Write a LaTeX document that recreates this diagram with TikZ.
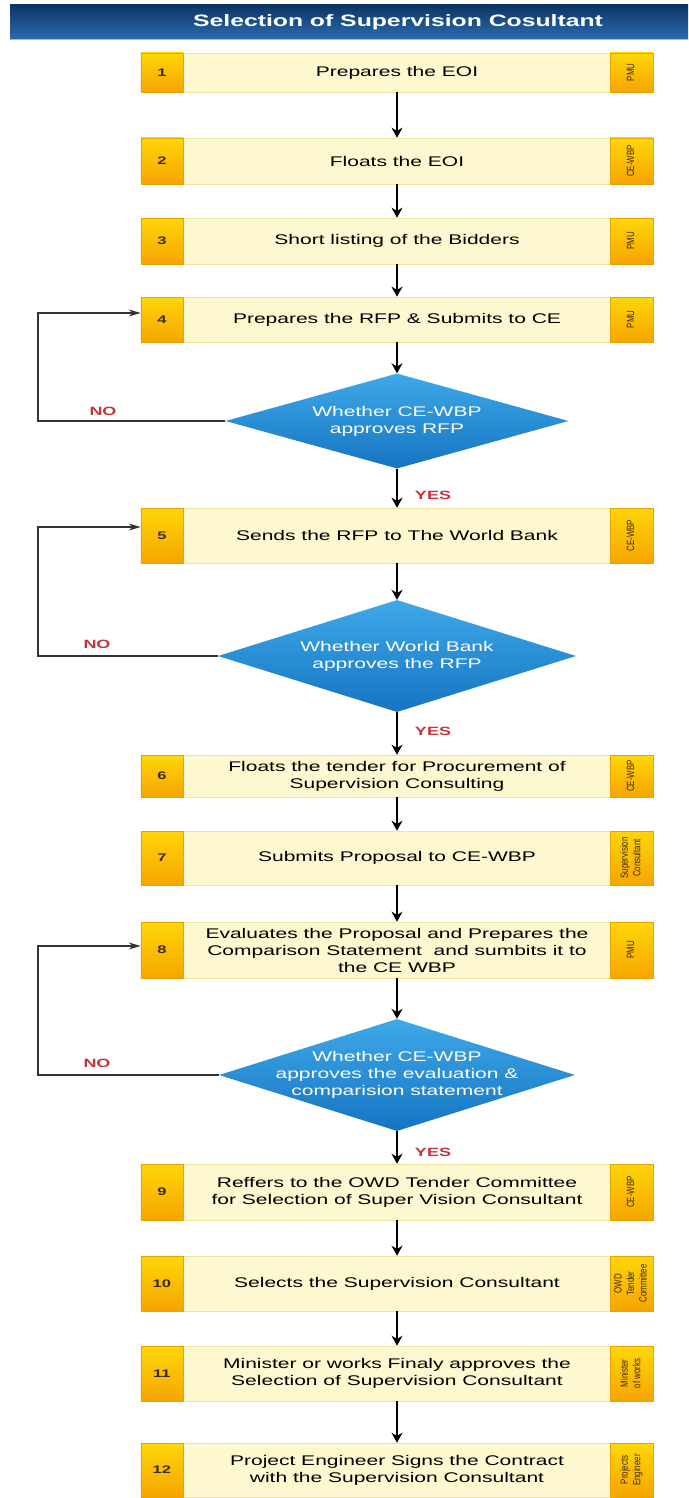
\documentclass[tikz,border=0pt]{standalone}
\usepackage{fontspec}
\setmainfont[FakeStretch=1.5]{Liberation Sans}
\newfontfamily\rolefont[FakeStretch=0.75]{Liberation Sans}
\usetikzlibrary{shapes.geometric,arrows.meta,calc}

\definecolor{boxfill}{HTML}{FEF8D0}
\definecolor{boxline}{HTML}{F2E3A0}
\definecolor{goldtop}{HTML}{FFD60A}
\definecolor{goldbot}{HTML}{F6A500}
\definecolor{goldline}{HTML}{E9A200}
\definecolor{celltext}{HTML}{3B2A05}
\definecolor{dtop}{HTML}{3EA9E8}
\definecolor{dbot}{HTML}{1674C2}
\definecolor{barTop}{HTML}{0B3666}
\definecolor{barBot}{HTML}{2C6CB0}
\definecolor{answercol}{HTML}{C8323C}

% rotated responsibility text in the right-hand cell
\newcommand{\rolelabel}[1]{\rotatebox{90}{\rolefont\fontsize{10.5}{12.5}\selectfont
  \begin{tabular}{@{}c@{}}#1\end{tabular}}}

\begin{document}
\begin{tikzpicture}[x=1pt,y=-1pt,
  stepbox/.style={draw=boxline, line width=0.6pt, fill=boxfill, minimum width=512pt,
    inner sep=1pt, align=center, font=\fontsize{14}{17}\selectfont, text=black},
  numcell/.style={draw=goldline, line width=0.4pt, top color=goldtop, bottom color=goldbot,
    minimum width=42pt, anchor=west, inner sep=0pt,
    font=\bfseries\fontsize{11}{13}\selectfont, text=celltext},
  rolecell/.style={draw=goldline, line width=0.4pt, top color=goldtop, bottom color=goldbot,
    minimum width=43pt, anchor=east, inner sep=0pt, text=celltext},
  decision/.style={diamond, top color=dtop, bottom color=dbot, draw=none, inner sep=0pt},
  dtext/.style={text=white, align=center, font=\fontsize{14}{17}\selectfont},
  flow/.style={line width=2.2pt, -{Stealth[length=10pt,width=11pt]}},
  loopback/.style={draw=black!80, line width=1.6pt, -{Stealth[length=12pt,width=7pt]}},
  answer/.style={text=answercol, font=\bfseries\fontsize{12}{14}\selectfont},
  titletext/.style={text=white, font=\bfseries\fontsize{16.5}{19}\selectfont},
]
\fill[white] (0,0) rectangle (688,1498);
\useasboundingbox (0,0) rectangle (688,1498);

% heading bar
\shade[top color=barTop, bottom color=barBot] (10,5) rectangle (688,40);
\draw[white!55!barBot, line width=1pt] (10,39.5) -- (688,39.5);
\node[titletext] (title) at (398,22) {Selection of Supervision Cosultant};

% steps
\node[stepbox, minimum height=39pt] (b1) at (397,72.5) {Prepares the EOI};
\node[numcell, minimum height=39pt] (n1) at (b1.west) {1};
\node[rolecell, minimum height=39pt] (r1) at (b1.east) {\rolelabel{PMU}};

\node[stepbox, minimum height=46pt] (b2) at (397,161) {Floats the EOI};
\node[numcell, minimum height=46pt] (n2) at (b2.west) {2};
\node[rolecell, minimum height=46pt] (r2) at (b2.east) {\rolelabel{CE-WBP}};

\node[stepbox, minimum height=46pt] (b3) at (397,241) {Short listing of the Bidders};
\node[numcell, minimum height=46pt] (n3) at (b3.west) {3};
\node[rolecell, minimum height=46pt] (r3) at (b3.east) {\rolelabel{PMU}};

\node[stepbox, minimum height=45pt] (b4) at (397,319.5) {Prepares the RFP \& Submits to CE};
\node[numcell, minimum height=45pt] (n4) at (b4.west) {4};
\node[rolecell, minimum height=45pt] (r4) at (b4.east) {\rolelabel{PMU}};

\node[stepbox, minimum height=55pt] (b5) at (397,535.5) {Sends the RFP to The World Bank};
\node[numcell, minimum height=55pt] (n5) at (b5.west) {5};
\node[rolecell, minimum height=55pt] (r5) at (b5.east) {\rolelabel{CE-WBP}};

\node[stepbox, minimum height=42pt] (b6) at (397,776) {Floats the tender for Procurement of\\Supervision Consulting};
\node[numcell, minimum height=42pt] (n6) at (b6.west) {6};
\node[rolecell, minimum height=42pt] (r6) at (b6.east) {\rolelabel{CE-WBP}};

\node[stepbox, minimum height=54pt] (b7) at (397,858) {Submits Proposal to CE-WBP};
\node[numcell, minimum height=54pt] (n7) at (b7.west) {7};
\node[rolecell, minimum height=54pt] (r7) at (b7.east) {\rolelabel{Supervision\\Consultant}};

\node[stepbox, minimum height=56pt] (b8) at (397,950) {Evaluates the Proposal and Prepares the\\Comparison Statement\ \ and sumbits it to\\the CE WBP};
\node[numcell, minimum height=56pt] (n8) at (b8.west) {8};
\node[rolecell, minimum height=56pt] (r8) at (b8.east) {\rolelabel{PMU}};

\node[stepbox, minimum height=56pt] (b9) at (397,1192) {Reffers to the OWD Tender Committee\\for Selection of Super Vision Consultant};
\node[numcell, minimum height=56pt] (n9) at (b9.west) {9};
\node[rolecell, minimum height=56pt] (r9) at (b9.east) {\rolelabel{CE-WBP}};

\node[stepbox, minimum height=55pt] (b10) at (397,1283.5) {Selects the Supervision Consultant};
\node[numcell, minimum height=55pt] (n10) at (b10.west) {10};
\node[rolecell, minimum height=55pt] (r10) at (b10.east) {\rolelabel{OWD\\Tender\\Committee}};

\node[stepbox, minimum height=55pt] (b11) at (397,1373.5) {Minister or works Finaly approves the\\Selection of Supervision Consultant};
\node[numcell, minimum height=55pt] (n11) at (b11.west) {11};
\node[rolecell, minimum height=55pt] (r11) at (b11.east) {\rolelabel{Minister\\of works}};

\node[stepbox, minimum height=54pt] (b12) at (397,1470) {Project Engineer Signs the Contract\\with the Supervision Consultant};
\node[numcell, minimum height=54pt] (n12) at (b12.west) {12};
\node[rolecell, minimum height=54pt] (r12) at (b12.east) {\rolelabel{Projects\\Engineer}};

% decisions
\node[decision, minimum width=343pt, minimum height=95pt] (d1) at (397,421) {};
\node[dtext] (t1) at (d1) {Whether CE-WBP\\approves RFP};
\node[decision, minimum width=358pt, minimum height=112pt] (d2) at (397,656) {};
\node[dtext] (t2) at (d2) {Whether World Bank\\approves the RFP};
\node[decision, minimum width=356pt, minimum height=112pt] (d3) at (397,1075) {};
\node[dtext] (t3) at (d3) {Whether CE-WBP\\approves the evaluation \&\\comparision statement};

% main flow
\draw[flow] (b1) -- (b2);
\draw[flow] (b2) -- (b3);
\draw[flow] (b3) -- (b4);
\draw[flow] (b4) -- (d1);
\draw[flow] (d1) -- (b5);
\draw[flow] (b5) -- (d2);
\draw[flow] (d2) -- (b6);
\draw[flow] (b6) -- (b7);
\draw[flow] (b7) -- (b8);
\draw[flow] (b8) -- (d3);
\draw[flow] (d3) -- (b9);
\draw[flow] (b9) -- (b10);
\draw[flow] (b10) -- (b11);
\draw[flow] (b11) -- (b12);

\node[answer] (y1) at (433,495) {YES};
\node[answer] (y2) at (433,731) {YES};
\node[answer] (y3) at (433,1152) {YES};

% rejection loops
\coordinate (k1) at (38,313);
\coordinate (k2) at (38,527);
\coordinate (k3) at (38,946);
\draw[loopback] (d1.west) -| (k1) -- (b4.west |- k1);
\draw[loopback] (d2.west) -| (k2) -- (b5.west |- k2);
\draw[loopback] (d3.west) -| (k3) -- (b8.west |- k3);

\node[answer] (no1) at (103,411) {NO};
\node[answer] (no2) at (97,644) {NO};
\node[answer] (no3) at (97,1063) {NO};
\end{tikzpicture}
\end{document}
